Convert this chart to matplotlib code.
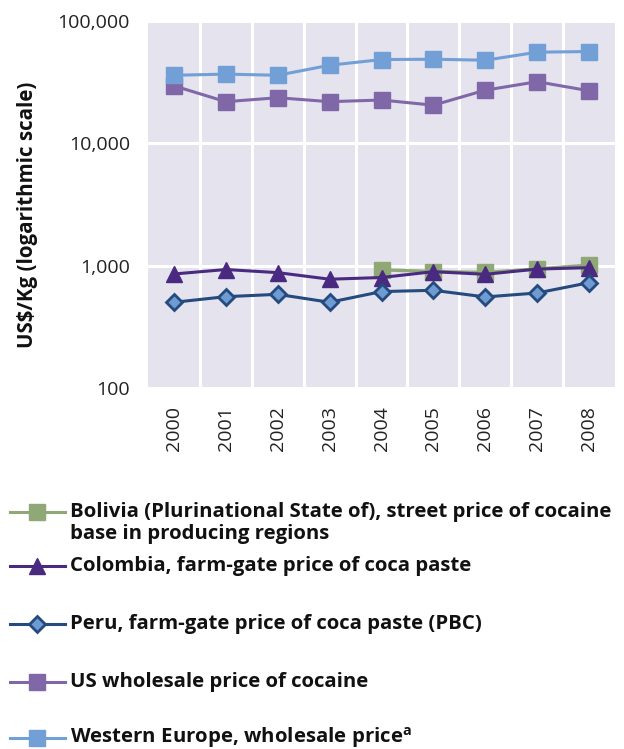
import matplotlib
matplotlib.use("Agg")
import matplotlib.pyplot as plt
from matplotlib.lines import Line2D
from matplotlib.ticker import FixedLocator, NullLocator

years = ["2000", "2001", "2002", "2003", "2004", "2005", "2006", "2007", "2008"]
bolivia = [None, None, None, None, 925, 895, 880, 940, 1010]
colombia = [855, 930, 877, 775, 800, 893, 850, 938, 963]
peru = [502, 558, 583, 502, 614, 629, 555, 598, 726]
us = [29500, 21900, 23600, 21900, 22600, 20500, 27200, 31900, 26900]
west_eu = [36000, 36800, 36000, 43500, 48400, 48700, 47800, 55600, 56300]

ytick_vals = [100, 1000, 10000, 100000]
ytick_labels = ["100", "1,000", "10,000", "100,000"]

legend_labels = [
    "Bolivia (Plurinational State of), street price of cocaine\nbase in producing regions",
    "Colombia, farm-gate price of coca paste",
    "Peru, farm-gate price of coca paste (PBC)",
    "US wholesale price of cocaine",
    "Western Europe, wholesale price$^{\\mathregular{a}}$",
]

FONT = "Open Sans"
W, H = 624, 749
fig = plt.figure(figsize=(W / 100, H / 100), dpi=100)
ax = fig.add_axes([148 / W, 1 - 388 / H, (615 - 148) / W, (388 - 21) / H])
ax.set_facecolor("#E4E3EE")
for s in ax.spines.values():
    s.set_visible(False)

x = list(range(len(years)))
c_bol = "#8FA876"
c_col = "#4A2A80"
c_peru = "#254A7E"
c_peru_face = "#6E9BD2"
c_us = "#8068A8"
c_we = "#729FD6"

bx = [i for i, v in zip(x, bolivia) if v is not None]
bv = [v for v in bolivia if v is not None]
ax.plot(bx, bv, color=c_bol, lw=2.4, marker="s", ms=11, mec=c_bol, zorder=3)
ax.plot(x, colombia, color=c_col, lw=2.2, marker="^", ms=12, mec=c_col, zorder=4)
ax.plot(x, peru, color=c_peru, lw=2.2, marker="D", ms=8.5, mfc=c_peru_face, mec=c_peru, mew=2, zorder=4)
ax.plot(x, us, color=c_us, lw=2.2, marker="s", ms=11, mec=c_us, zorder=4)
ax.plot(x, west_eu, color=c_we, lw=2.2, marker="s", ms=11, mec=c_we, zorder=4)

ax.set_yscale("log")
ax.set_ylim(100, 100000)
ax.yaxis.set_major_locator(FixedLocator(ytick_vals))
ax.set_yticklabels(ytick_labels)
ax.yaxis.set_minor_locator(NullLocator())
ax.set_xlim(-0.5, len(years) - 0.5)
ax.set_xticks(x)
ax.set_xticklabels(years, rotation=90)
ax.set_xticks([i + 0.5 for i in x[:-1]], minor=True)
ax.grid(True, which="major", axis="y", color="white", lw=2.2, zorder=1)
ax.grid(True, which="minor", axis="x", color="white", lw=2.2, zorder=1)
ax.set_axisbelow(True)
ax.tick_params(axis="both", which="both", length=0)
ax.tick_params(axis="y", pad=13, labelsize=14, labelcolor="#222222")
ax.tick_params(axis="x", pad=13, labelsize=14, labelcolor="#222222")
for lab in ax.get_xticklabels() + ax.get_yticklabels():
    lab.set_fontfamily(FONT)

fig.text(28 / W, 1 - 215 / H, "US$/Kg (logarithmic scale)", rotation=90, ha="center",
         va="center", fontsize=14.8, fontweight="bold", family=FONT, color="#111111")

# legend
entries = [
    (c_bol, "s", c_bol, c_bol, 11, 512),
    (c_col, "^", c_col, c_col, 12, 566),
    (c_peru, "D", c_peru_face, c_peru, 8.5, 624),
    (c_us, "s", c_us, c_us, 11, 682),
    (c_we, "s", c_we, c_we, 11, 738),
]
for (lc, mk, mfc, mec, ms, yy), lab in zip(entries, legend_labels):
    fy = 1 - yy / H
    fig.add_artist(Line2D([10 / W, 65 / W], [fy, fy], transform=fig.transFigure,
                          color=lc, lw=2.2))
    fig.add_artist(Line2D([37 / W], [fy], transform=fig.transFigure, marker=mk,
                          ms=ms, mfc=mfc, mec=mec, mew=2 if mk == "D" else 1, ls="none"))
    ty = fy - (11 / H if "\n" in lab else 0)
    fig.text(70 / W, ty, lab, ha="left", va="center", fontsize=14.7, fontweight="bold",
             family=FONT, color="#111111", linespacing=1.1)

fig.savefig("out.png", dpi=100)
